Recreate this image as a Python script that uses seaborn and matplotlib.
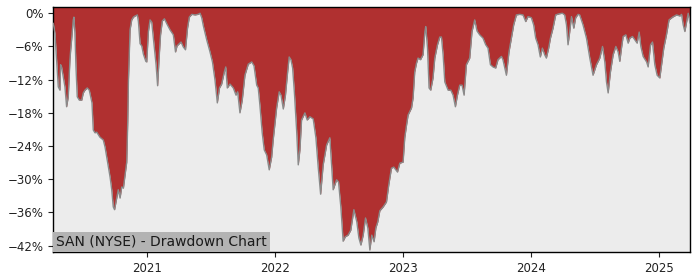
import numpy as np
import pandas as pd
import matplotlib
matplotlib.use("Agg")
import matplotlib.pyplot as plt
import matplotlib.dates as mdates
from matplotlib.ticker import PercentFormatter
import seaborn as sns

# Drawdown series (decimal year, drawdown %)
years = [
    2020.266, 2020.279, 2020.292, 2020.305, 2020.318, 2020.323, 2020.331, 2020.344, 2020.357, 2020.370,
    2020.383, 2020.396, 2020.402, 2020.409, 2020.422, 2020.427, 2020.435, 2020.443, 2020.453, 2020.469,
    2020.488, 2020.500, 2020.513, 2020.531, 2020.547, 2020.558, 2020.568, 2020.578, 2020.591, 2020.605,
    2020.630, 2020.656, 2020.670, 2020.683, 2020.709, 2020.722, 2020.734, 2020.744, 2020.761, 2020.773,
    2020.787, 2020.800, 2020.813, 2020.826, 2020.839, 2020.847, 2020.852, 2020.865, 2020.878, 2020.891,
    2020.904, 2020.922, 2020.930, 2020.943, 2020.956, 2020.969, 2020.988, 2020.995, 2021.008, 2021.021,
    2021.034, 2021.047, 2021.068, 2021.080, 2021.091, 2021.103, 2021.117, 2021.133, 2021.152, 2021.177,
    2021.203, 2021.220, 2021.232, 2021.263, 2021.281, 2021.298, 2021.314, 2021.328, 2021.347, 2021.373,
    2021.396, 2021.412, 2021.425, 2021.438, 2021.464, 2021.490, 2021.509, 2021.529, 2021.547, 2021.564,
    2021.581, 2021.602, 2021.613, 2021.625, 2021.646, 2021.672, 2021.693, 2021.706, 2021.724, 2021.742,
    2021.763, 2021.789, 2021.816, 2021.834, 2021.855, 2021.867, 2021.880, 2021.898, 2021.914, 2021.933,
    2021.953, 2021.972, 2021.984, 2022.011, 2022.031, 2022.045, 2022.063, 2022.080, 2022.097, 2022.109,
    2022.123, 2022.136, 2022.150, 2022.167, 2022.180, 2022.193, 2022.206, 2022.232, 2022.250, 2022.271,
    2022.297, 2022.318, 2022.336, 2022.355, 2022.375, 2022.402, 2022.427, 2022.441, 2022.453, 2022.480,
    2022.495, 2022.513, 2022.531, 2022.548, 2022.570, 2022.591, 2022.615, 2022.638, 2022.654, 2022.670,
    2022.688, 2022.706, 2022.724, 2022.740, 2022.755, 2022.773, 2022.787, 2022.802, 2022.818, 2022.844,
    2022.870, 2022.888, 2022.909, 2022.927, 2022.956, 2022.974, 2023.000, 2023.013, 2023.027, 2023.039,
    2023.066, 2023.078, 2023.091, 2023.105, 2023.117, 2023.136, 2023.156, 2023.170, 2023.177, 2023.191,
    2023.203, 2023.216, 2023.234, 2023.248, 2023.269, 2023.287, 2023.300, 2023.313, 2023.326, 2023.352,
    2023.373, 2023.391, 2023.409, 2023.425, 2023.443, 2023.461, 2023.477, 2023.495, 2023.521, 2023.539,
    2023.560, 2023.578, 2023.599, 2023.625, 2023.646, 2023.664, 2023.683, 2023.703, 2023.724, 2023.742,
    2023.769, 2023.781, 2023.808, 2023.828, 2023.847, 2023.865, 2023.886, 2023.912, 2023.938, 2023.959,
    2023.977, 2024.003, 2024.021, 2024.037, 2024.055, 2024.073, 2024.089, 2024.107, 2024.120, 2024.138,
    2024.152, 2024.172, 2024.193, 2024.219, 2024.245, 2024.263, 2024.277, 2024.289, 2024.302, 2024.316,
    2024.334, 2024.349, 2024.367, 2024.380, 2024.406, 2024.433, 2024.459, 2024.484, 2024.511, 2024.537,
    2024.558, 2024.576, 2024.589, 2024.602, 2024.620, 2024.641, 2024.662, 2024.680, 2024.693, 2024.706,
    2024.719, 2024.740, 2024.758, 2024.771, 2024.792, 2024.810, 2024.828, 2024.844, 2024.857, 2024.875,
    2024.902, 2024.914, 2024.933, 2024.948, 2024.966, 2024.984, 2025.005, 2025.019, 2025.036, 2025.057,
    2025.077, 2025.105, 2025.136, 2025.162, 2025.175, 2025.188, 2025.201, 2025.214, 2025.227, 2025.241,
]
drawdown = [
    -1.8, -3.6, -8.4, -13.3, -13.9, -9.3, -9.7, -11.5, -13.3, -16.9,
    -15.1, -8.4, -6.6, -4.8, -1.2, -0.7, -3.6, -9.7, -15.1, -15.7,
    -15.7, -14.4, -13.9, -13.5, -13.9, -15.1, -16.2, -21.1, -21.6, -21.5,
    -22.4, -22.9, -24.2, -26.0, -29.6, -31.9, -35.0, -35.5, -33.4, -31.9,
    -33.4, -31.4, -31.6, -29.2, -26.9, -19.6, -12.4, -3.0, -1.2, -0.7,
    -0.5, -0.3, -1.5, -5.5, -5.9, -7.4, -8.7, -8.8, -3.3, -1.2,
    -1.6, -4.5, -9.3, -13.1, -8.4, -3.9, -1.4, -1.0, -1.9, -3.0,
    -3.9, -7.0, -5.9, -5.2, -6.1, -6.6, -2.7, -0.7, -0.2, -0.3,
    -0.2, 0.0, -0.8, -2.3, -4.8, -7.0, -8.8, -12.1, -16.2, -13.5,
    -12.8, -10.6, -9.7, -13.5, -12.8, -13.5, -14.8, -14.2, -18.0, -15.7,
    -11.2, -9.2, -8.8, -9.5, -13.0, -13.5, -16.6, -21.6, -24.7, -25.6,
    -28.3, -26.0, -22.9, -17.1, -14.2, -14.8, -17.3, -14.8, -10.6, -7.9,
    -8.4, -9.9, -14.4, -21.1, -27.4, -24.7, -19.3, -18.0, -19.3, -18.7,
    -19.1, -22.5, -27.8, -32.7, -27.4, -23.8, -22.5, -27.4, -31.9, -30.1,
    -30.5, -35.0, -41.2, -40.4, -40.1, -39.2, -35.5, -37.7, -40.6, -41.9,
    -40.1, -37.0, -38.8, -42.8, -40.1, -41.3, -38.8, -37.7, -35.7, -35.0,
    -34.1, -31.0, -28.0, -27.8, -28.7, -27.1, -26.9, -22.5, -20.2, -18.4,
    -17.1, -15.3, -10.6, -9.0, -8.1, -8.4, -7.5, -3.4, -2.4, -6.3,
    -13.5, -13.9, -11.7, -8.1, -5.7, -4.3, -4.3, -7.5, -12.4, -13.9,
    -13.9, -14.8, -16.9, -14.8, -13.0, -13.0, -14.8, -9.3, -8.1, -3.3,
    -1.2, -3.2, -3.9, -4.5, -5.7, -6.3, -9.3, -9.7, -9.9, -8.4,
    -7.8, -8.4, -11.2, -7.0, -4.5, -2.1, -0.3, -0.2, -0.3, -1.5,
    -0.6, -0.8, -2.1, -4.5, -5.7, -7.9, -6.3, -7.5, -8.1, -6.3,
    -4.5, -2.7, -0.3, -0.1, 0.0, -0.3, -2.1, -5.7, -3.4, -0.6,
    -2.7, -0.8, -0.2, -0.3, -2.1, -4.5, -8.1, -11.2, -9.3, -8.1,
    -6.0, -8.8, -12.4, -14.4, -10.6, -7.5, -6.0, -7.0, -8.7, -6.3,
    -4.2, -3.9, -5.4, -4.5, -4.2, -4.8, -5.4, -3.4, -6.0, -7.8,
    -8.8, -9.7, -5.7, -5.2, -9.3, -11.2, -11.7, -9.3, -6.3, -3.9,
    -1.2, -0.7, -0.3, -0.5, -0.2, -2.1, -3.3, -1.6, 0.0, -1.8,
]
y_ticks = [0, -6, -12, -18, -24, -30, -36, -42]
title_text = "SAN (NYSE) - Drawdown Chart"


def to_datetime(y):
    base = pd.Timestamp(int(np.floor(y)), 1, 1)
    nxt = pd.Timestamp(int(np.floor(y)) + 1, 1, 1)
    return base + (nxt - base) * (y - np.floor(y))


df = pd.DataFrame({"date": [to_datetime(v) for v in years], "dd": drawdown})

sns.set_theme(style="ticks")
plt.rcParams["font.family"] = ["DejaVu Sans"]

fig = plt.figure(figsize=(7, 2.8), dpi=100)
ax = fig.add_axes([0.0761, 0.099, 0.9096, 0.875])
ax.set_facecolor("#ececec")

ymin, ymax = -43.2, 1.08
ax.fill_between(df["date"], df["dd"], ymax, color="#b03030", linewidth=0, zorder=2)
sns.lineplot(data=df, x="date", y="dd", ax=ax, color="#8a8a8a", linewidth=1.0, zorder=3)

ax.set_xlim(df["date"].iloc[0], df["date"].iloc[-1])
ax.set_ylim(ymin, ymax)
ax.set_yticks(y_ticks)
ax.yaxis.set_major_formatter(PercentFormatter(xmax=100, decimals=0))
ax.xaxis.set_major_locator(mdates.YearLocator())
ax.xaxis.set_major_formatter(mdates.DateFormatter("%Y"))
ax.set_xlabel("")
ax.set_ylabel("")
ax.tick_params(axis="both", labelsize=8.5, colors="#222222", length=3.5, width=0.8)
for s in ax.spines.values():
    s.set_visible(True)
    s.set_color("black")
    s.set_linewidth(1.0)

ax.annotate(title_text, xy=(0, 0), xycoords="axes fraction", xytext=(2, 2.5),
            textcoords="offset points", ha="left", va="bottom", fontsize=10,
            color="#1a1a1a", zorder=5,
            bbox=dict(boxstyle="square,pad=0.2", facecolor="#b3b3b3", edgecolor="none"))

fig.savefig("out.png", dpi=100, facecolor="white")
